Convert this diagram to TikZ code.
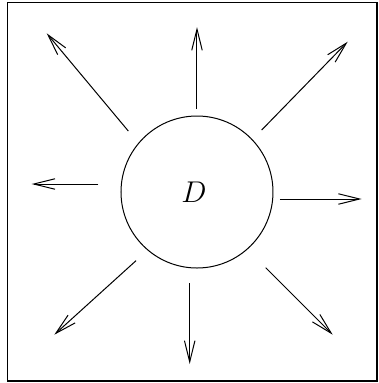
\documentclass[tikz,border=0pt]{standalone}
\usetikzlibrary{arrows.meta}

\begin{document}
\begin{tikzpicture}[
    x=0.4pt,y=-0.4pt,
    ray/.style={-{Straight Barb[length=8.5pt,width=4.2pt]}},
    disc/.style={draw,circle,minimum size=60.8pt,inner sep=0pt}
  ]
  \useasboundingbox (0,0) rectangle (379,383);
  \draw[line width=0.5pt] (7.5,2.5) rectangle (377,381);
  \node[disc] (dom) at (197,192) {};
  \node[font=\large] (lbl) at (194,192) {$D$};
  % ray ends
  \coordinate (n0) at (197,109);   \coordinate (n1) at (197,27);
  \coordinate (s0) at (189.7,283); \coordinate (s1) at (189.7,364);
  \coordinate (w0) at (98.3,184);  \coordinate (w1) at (31.7,184);
  \coordinate (e0) at (280,199);   \coordinate (e1) at (361.7,199);
  \coordinate (nw0) at (128.3,131); \coordinate (nw1) at (46.7,33.3);
  \coordinate (ne0) at (261.7,130); \coordinate (ne1) at (347.7,41.7);
  \coordinate (sw0) at (136,260.7); \coordinate (sw1) at (54.3,334.7);
  \coordinate (se0) at (265.7,267.7); \coordinate (se1) at (332.7,334.7);
  \draw[ray] (n0) -- (n1);
  \draw[ray] (s0) -- (s1);
  \draw[ray] (w0) -- (w1);
  \draw[ray] (e0) -- (e1);
  \draw[ray] (nw0) -- (nw1);
  \draw[ray] (ne0) -- (ne1);
  \draw[ray] (sw0) -- (sw1);
  \draw[ray] (se0) -- (se1);
\end{tikzpicture}
\end{document}
